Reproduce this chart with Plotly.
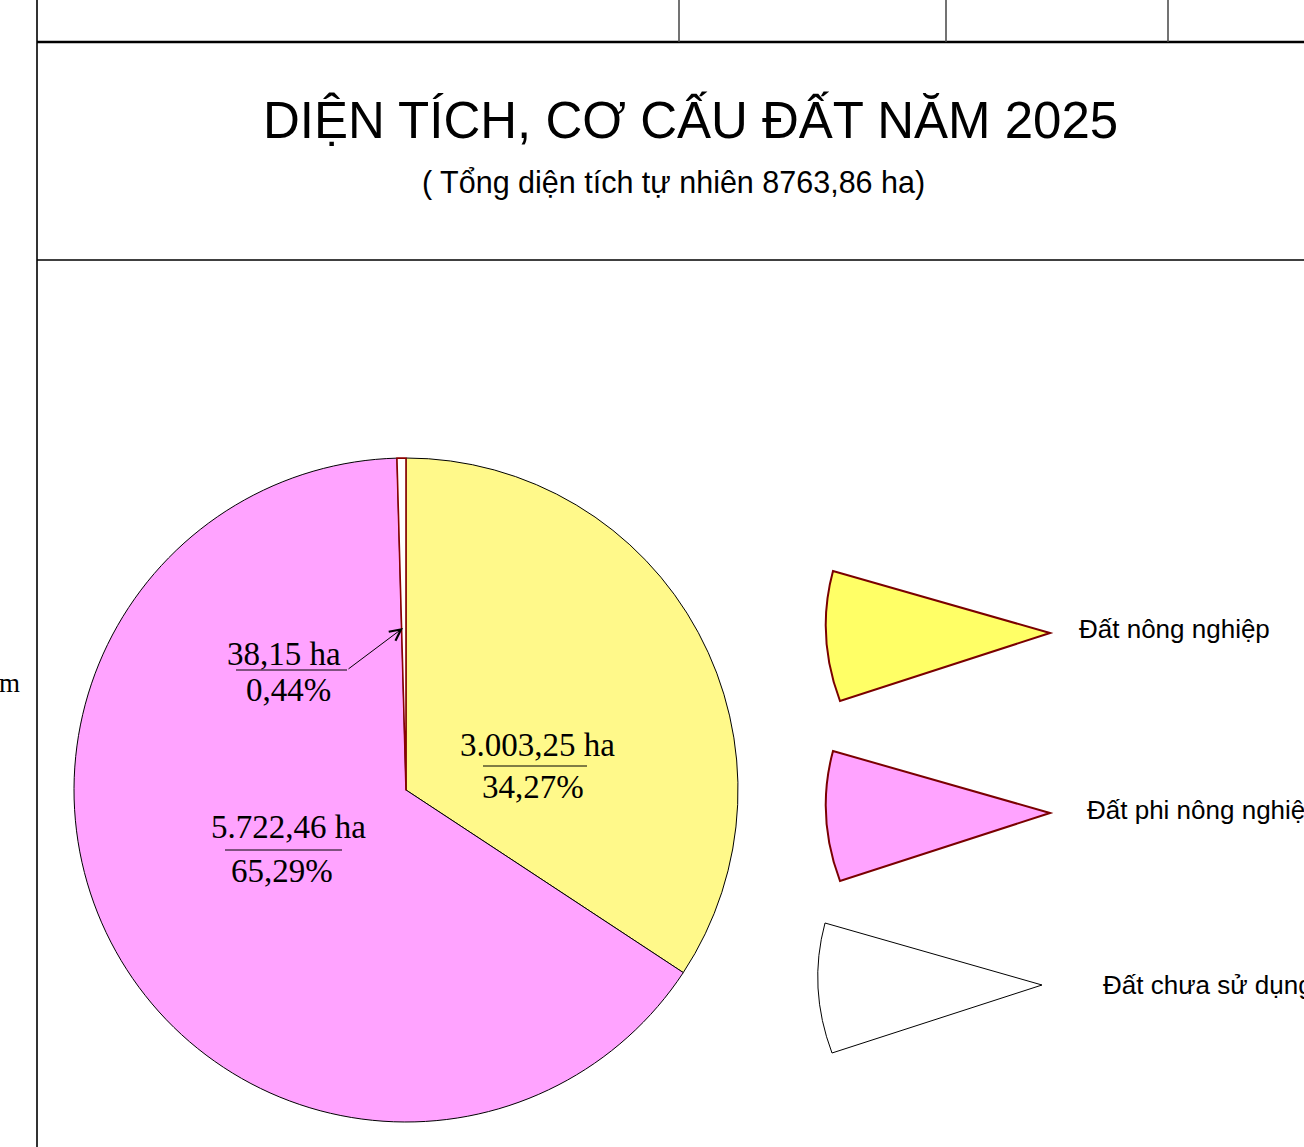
import plotly.graph_objects as go

# ---- data ----
categories = ["Đất nông nghiệp", "Đất phi nông nghiệp", "Đất chưa sử dụng"]
area_ha = [3003.25, 5722.46, 38.15]
percent = [34.27, 65.29, 0.44]
total_ha = 8763.86
pie_colors = ["#FFF98A", "#FFA3FF", "#FFFFFF"]
legend_colors = ["#FFFF66", "#FFA3FF", "#FFFFFF"]

W, H = 1304, 1147


def vn_num(v, dec=2, group=True):
    s = f"{v:,.{dec}f}" if group else f"{v:.{dec}f}"
    return s.replace(",", "X").replace(".", ",").replace("X", ".")


fig = go.Figure()

# pie
cx, cy, r = 406, 790, 332
fig.add_trace(go.Pie(
    labels=categories, values=area_ha, sort=False, direction="clockwise",
    rotation=0, textinfo="none", hoverinfo="label+value+percent",
    marker=dict(colors=pie_colors,
                line=dict(color=["#000000", "#000000", "#8B0000"], width=[1, 1, 1.6])),
    domain=dict(x=[(cx - r) / W, (cx + r) / W], y=[1 - (cy + r) / H, 1 - (cy - r) / H]),
    showlegend=False,
))

# dummy scatter to enable pixel axes
fig.add_trace(go.Scatter(x=[0], y=[0], mode="markers", marker=dict(opacity=0),
                         showlegend=False, hoverinfo="skip"))

fig.update_layout(
    width=W, height=H, margin=dict(l=0, r=0, t=0, b=0),
    paper_bgcolor="white", plot_bgcolor="rgba(0,0,0,0)",
    xaxis=dict(range=[0, W], visible=False, domain=[0, 1], fixedrange=True),
    yaxis=dict(range=[H, 0], visible=False, domain=[0, 1], fixedrange=True),
)

shapes = []
# frame lines
shapes.append(dict(type="line", x0=37, x1=37, y0=0, y1=H, line=dict(color="#333333", width=2)))
shapes.append(dict(type="line", x0=37, x1=W, y0=42, y1=42, line=dict(color="#000000", width=2.5)))
for xv in [679, 946, 1168]:
    shapes.append(dict(type="line", x0=xv, x1=xv, y0=0, y1=42, line=dict(color="#444444", width=1.5)))
shapes.append(dict(type="line", x0=37, x1=W, y0=260, y1=260, line=dict(color="#000000", width=1.5)))

# label underlines
shapes.append(dict(type="line", x0=483, x1=587, y0=766, y1=766, line=dict(color="black", width=1)))
shapes.append(dict(type="line", x0=225, x1=342, y0=850, y1=850, line=dict(color="black", width=1)))
shapes.append(dict(type="line", x0=236, x1=347, y0=670, y1=670, line=dict(color="black", width=1)))

# legend wedges
wedge_rows = [(0, 633, "#7A0000", 2), (0, 813, "#7A0000", 2), (-8, 985, "#000000", 1)]
for i, (dx, yc, lc, lw) in enumerate(wedge_rows):
    tip = (1050 + dx, yc)
    top = (833 + dx, yc - 62)
    bot = (840 + dx, yc + 68)
    ctrl = (815.5 + dx, yc + 3)
    path = (f"M {tip[0]},{tip[1]} L {top[0]},{top[1]} "
            f"Q {ctrl[0]},{ctrl[1]} {bot[0]},{bot[1]} Z")
    shapes.append(dict(type="path", path=path, fillcolor=legend_colors[i],
                       line=dict(color=lc, width=lw)))
fig.update_layout(shapes=shapes)

ann = []
sans = "Liberation Sans, Arial, sans-serif"
serif = "Liberation Serif, Times New Roman, serif"
ann.append(dict(x=690, y=120, text="DIỆN TÍCH, CƠ CẤU ĐẤT NĂM 2025", showarrow=False,
                font=dict(family=sans, size=51, color="black"), xanchor="center", yanchor="middle"))
ann.append(dict(x=673, y=182, text=f"( Tổng diện tích tự nhiên {vn_num(total_ha, group=False)} ha)",
                showarrow=False,
                font=dict(family=sans, size=30.5, color="black"), xanchor="center", yanchor="middle"))
ann.append(dict(x=22, y=683, text="m", showarrow=False, xanchor="right", yanchor="middle",
                font=dict(family=serif, size=27, color="black")))

# slice labels
lab_pos = [((537, 745), (533, 787)), ((288, 827), (282, 871)), ((284, 654), (288, 690))]
for i, ((x1, y1), (x2, y2)) in enumerate(lab_pos):
    ann.append(dict(x=x1, y=y1, text=f"{vn_num(area_ha[i])} ha", showarrow=False,
                    xanchor="center", yanchor="middle", font=dict(family=serif, size=33, color="black")))
    ann.append(dict(x=x2, y=y2, text=f"{vn_num(percent[i])}%", showarrow=False,
                    xanchor="center", yanchor="middle", font=dict(family=serif, size=33, color="black")))

# arrow for small slice
ann.append(dict(x=403, y=628, ax=347, ay=670, axref="x", ayref="y", xref="x", yref="y",
                text="", showarrow=True, arrowhead=5, arrowsize=2.2, arrowwidth=1, arrowcolor="black"))

# legend labels
leg_text_pos = [(1077, 629), (1085, 810), (1101, 985)]
for i, (x, y) in enumerate(leg_text_pos):
    ann.append(dict(x=x, y=y, text=categories[i], showarrow=False, xanchor="left", yanchor="middle",
                    font=dict(family=sans, size=26, color="black")))

fig.update_layout(annotations=ann)
fig.write_html("out.html", config={"displayModeBar": False},
               post_script="document.body.style.margin='0';document.body.style.overflow='hidden';")
